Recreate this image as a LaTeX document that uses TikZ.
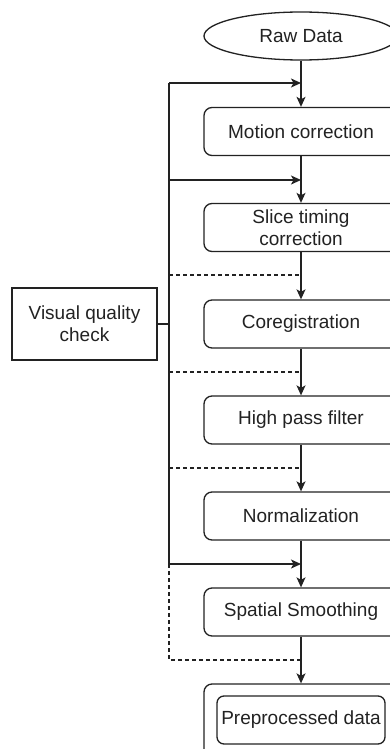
\documentclass[tikz,border=0pt]{standalone}
\usepackage{fontspec}
\setmainfont{Liberation Sans}
\usetikzlibrary{arrows.meta,shapes.geometric}
\definecolor{ink}{HTML}{222222}
\begin{document}
\begin{tikzpicture}[x=1pt,y=-1pt,
  every node/.style={font=\fontsize{19}{22}\selectfont, text=ink},
  stepbox/.style={draw=ink, line width=1.3pt, rounded corners=8pt, minimum width=194pt, minimum height=48pt, align=center, inner sep=0pt},
  plainbox/.style={draw=ink, line width=1.3pt, minimum width=145pt, minimum height=72pt, align=center, inner sep=0pt},
  link/.style={draw=ink, line width=1.3pt},
  arr/.style={link, -{Stealth[length=10pt,width=9pt,inset=2.5pt]}},
  dsh/.style={link, dash pattern=on 4pt off 3pt}]
\useasboundingbox (0,0) rectangle (390,749);
\clip (0,0) rectangle (390,749);
\fill[white] (0,0) rectangle (390,749);

\node[ellipse, draw=ink, line width=1.3pt, minimum width=194pt, minimum height=48pt, inner sep=0pt] (raw) at (301,36) {Raw Data};
\node[stepbox] (mc) at (301,131.5) {Motion correction};
\node[stepbox] (st) at (301,227.5) {Slice timing\\correction};
\node[stepbox] (co) at (301,324) {Coregistration};
\node[stepbox] (hp) at (301,420) {High pass filter};
\node[stepbox] (no) at (301,516) {Normalization};
\node[stepbox] (ss) at (301,612) {Spatial Smoothing};
\node[stepbox, minimum height=96pt] (pp) at (301,732) {};
\node[draw=ink, line width=1.3pt, rounded corners=7pt, minimum width=168pt, minimum height=48pt, inner sep=0pt] (ppi) at (301,720) {Preprocessed data};
\node[plainbox] (vq) at (84.5,324) {Visual quality\\check};

% main flow
\draw[arr] (raw) -- (mc);
\draw[arr] (mc) -- (st);
\draw[arr] (st) -- (co);
\draw[arr] (co) -- (hp);
\draw[arr] (hp) -- (no);
\draw[arr] (no) -- (ss);
\draw[arr] (ss) -- (pp);

% feedback lines
\coordinate (v1) at (169,83);  \coordinate (j1) at (301,83);
\coordinate (v2) at (169,180); \coordinate (j2) at (301,180);
\coordinate (v3) at (169,275); \coordinate (j3) at (301,275);
\coordinate (v4) at (169,372); \coordinate (j4) at (301,372);
\coordinate (v5) at (169,468); \coordinate (j5) at (301,468);
\coordinate (v6) at (169,564); \coordinate (j6) at (301,564);
\coordinate (v7) at (169,660); \coordinate (j7) at (301,660);

\draw[link] (v1) -- (v6);
\draw[link] (vq.east) -- (vq.east -| v1);
\draw[arr] (v1) -- (j1);
\draw[arr] (v2) -- (j2);
\draw[dsh] (v3) -- (j3);
\draw[dsh] (v4) -- (j4);
\draw[dsh] (v5) -- (j5);
\draw[arr] (v6) -- (j6);
\draw[dsh] (v6) -- (v7) -- (j7);
\end{tikzpicture}
\end{document}
